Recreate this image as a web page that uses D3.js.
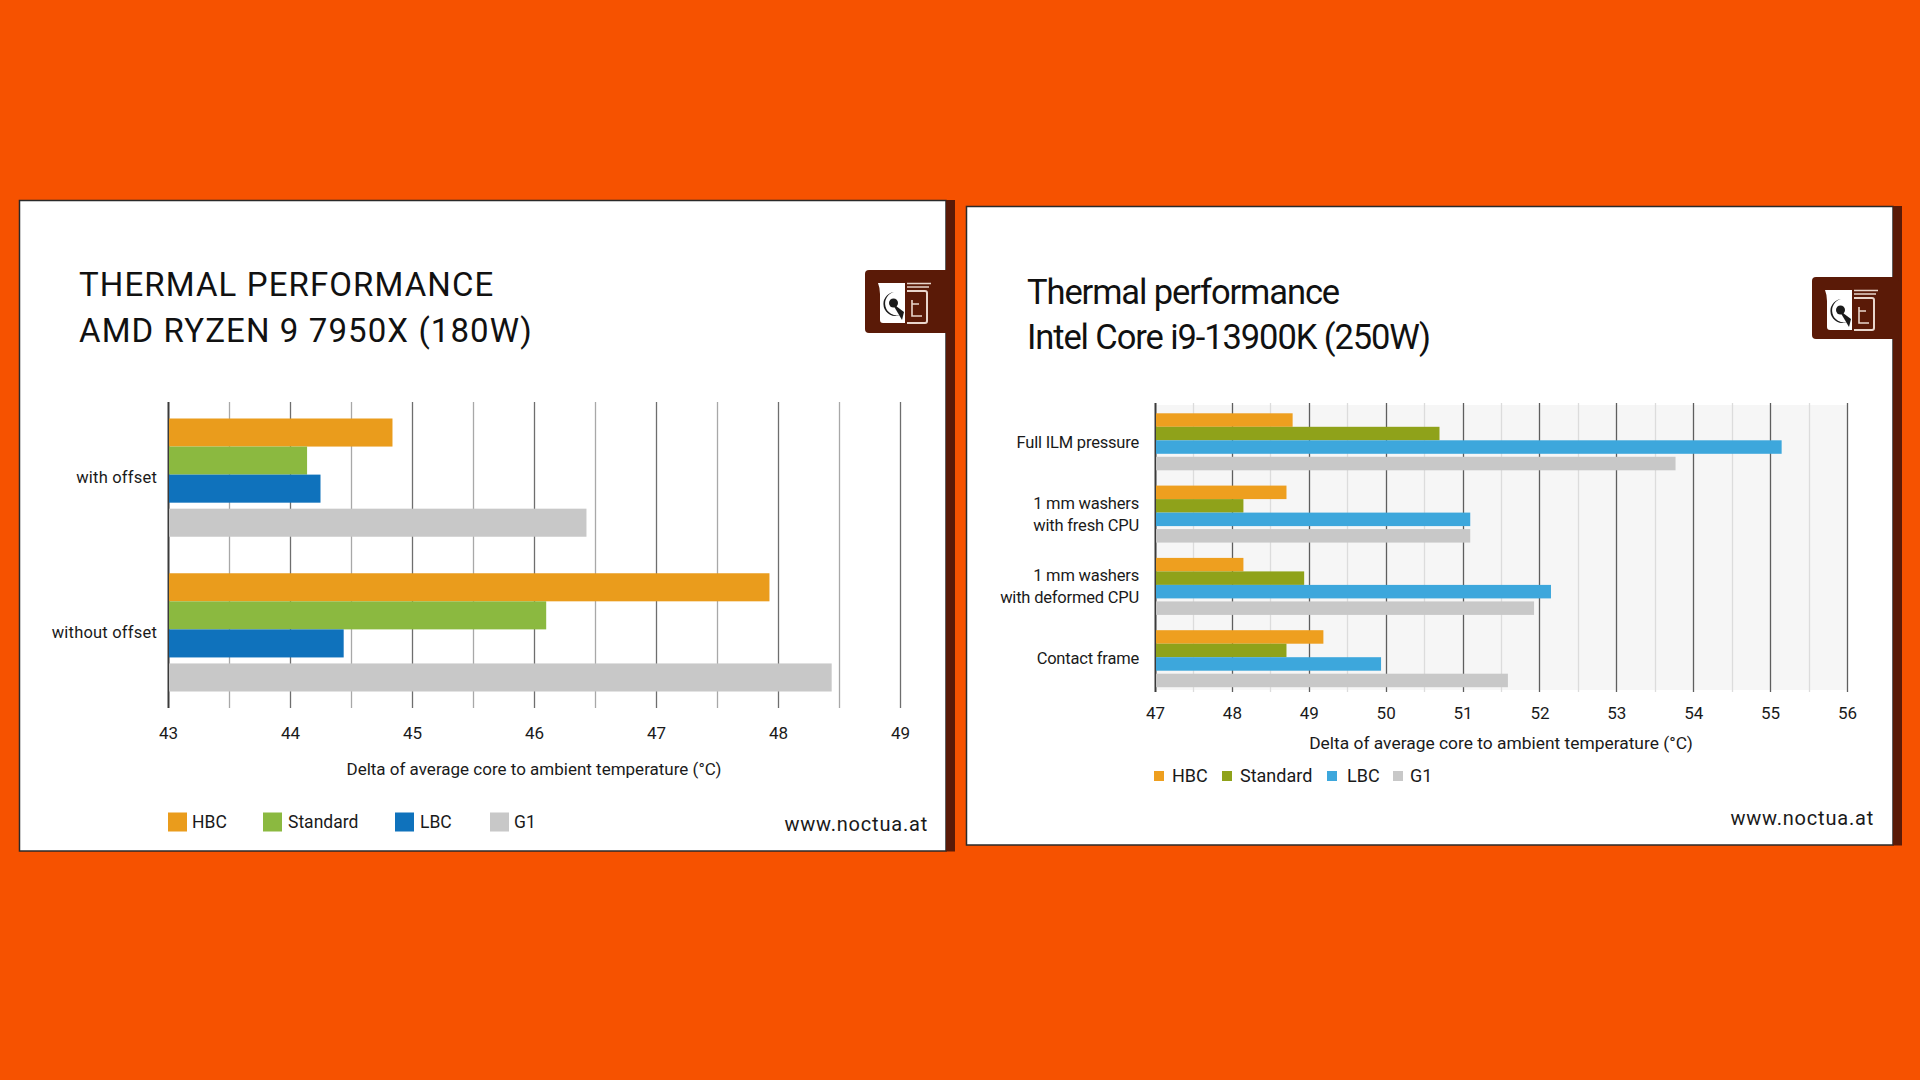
<!DOCTYPE html>
<html><head><meta charset="utf-8">
<script src="https://cdn.jsdelivr.net/npm/d3@7"></script>
<style>
html,body{margin:0;padding:0;background:#F65200;}
svg{display:block;}
text{font-family:Roboto, "Noto Sans", sans-serif;}
</style></head>
<body>
<svg id="c" width="1920" height="1080"></svg>
<script>
// ---------- DATA ----------
const seriesNames = ["HBC", "Standard", "LBC", "G1"];

const leftTitle = ["THERMAL PERFORMANCE", "AMD RYZEN 9 7950X (180W)"];
const leftCategories = ["with offset", "without offset"];
const leftHBC = [44.84, 47.93];
const leftStandard = [44.14, 46.10];
const leftLBC = [44.25, 44.44];
const leftG1 = [46.43, 48.44];
const leftTicks = [43, 44, 45, 46, 47, 48, 49];

const rightTitle = ["Thermal performance", "Intel Core i9-13900K (250W)"];
const rightCategories = [["Full ILM pressure"], ["1 mm washers", "with fresh CPU"], ["1 mm washers", "with deformed CPU"], ["Contact frame"]];
const rightHBC = [48.79, 48.71, 48.15, 49.19];
const rightStandard = [50.70, 48.15, 48.94, 48.71];
const rightLBC = [55.15, 51.10, 52.15, 49.94];
const rightG1 = [53.77, 51.10, 51.93, 51.59];
const rightTicks = [47, 48, 49, 50, 51, 52, 53, 54, 55, 56];

const axisTitle = "Delta of average core to ambient temperature (°C)";
const footer = "www.noctua.at";

// ---------- STYLE ----------
const leftColors = {HBC: "#EA9C1C", Standard: "#8BB940", LBC: "#0F72BC", G1: "#C8C8C8"};
const rightColors = {HBC: "#EE9F1F", Standard: "#8FA21A", LBC: "#3DA7DC", G1: "#C8C8C8"};
const brown = "#5A1A07";

const svg = d3.select("#c");

function panel(x0, y0, x1, y1) {
  svg.append("rect").attr("x", x0).attr("y", y0).attr("width", x1 - x0).attr("height", y1 - y0)
    .attr("fill", "#fff").attr("stroke", "#2a2a2a").attr("stroke-width", 1.5);
  svg.append("rect").attr("x", x1).attr("y", y0 - 0.5).attr("width", 9).attr("height", y1 - y0 + 1).attr("fill", brown);
}

function logo(x, y, w, h) {
  const g = svg.append("g");
  g.append("rect").attr("x", x).attr("y", y).attr("width", w + 6).attr("height", h).attr("rx", 4).attr("fill", brown);
  const ig = g.append("g").attr("transform", `translate(${x + 13},${y + 11})`);
  // left (white) half with spout notch
  ig.append("path").attr("d", "M0,2 L27,2 L27,42 L5,42 Q2,42 2,39 L2,13 Q2,7 0,2 Z").attr("fill", "#fff");
  // owl eye crescent
  ig.append("path").attr("d", "M16,11 A12,12 0 1 0 22,34 A9,9 0 1 1 16,11 Z").attr("fill", "#1b1b1b");
  ig.append("circle").attr("cx", 15.5).attr("cy", 22).attr("r", 4.5).attr("fill", "#1b1b1b");
  ig.append("path").attr("d", "M14,22 L26,31 L24,39 Z").attr("fill", "#1b1b1b");
  // right half outline
  ig.append("path").attr("d", "M29,10 L47,10 Q49,10 49,12 L49,40 Q49,42 47,42 L29,42")
    .attr("fill", "none").attr("stroke", "#e9d6cc").attr("stroke-width", 2);
  ig.append("path").attr("d", "M29,2.5 L53,2.5 M29,6 L51,6").attr("stroke", "#e9d6cc").attr("stroke-width", 1.6);
  ig.append("path").attr("d", "M34,19 L34,35 L44,35 M34,23 L41,23").attr("fill", "none").attr("stroke", "#e9d6cc").attr("stroke-width", 1.6);
}

function chart(cfg) {
  const x = d3.scaleLinear().domain(cfg.domain).range(cfg.xRange);
  const yOuter = d3.scaleBand().domain(cfg.categories.map((d, i) => i)).range(cfg.yRange)
    .paddingInner(cfg.padInner).paddingOuter(0);
  const yInner = d3.scaleBand().domain(seriesNames).range([0, yOuter.bandwidth() - cfg.g1Gap]).padding(0);
  const g = svg.append("g");

  if (cfg.plotBg) {
    g.append("rect").attr("x", x(cfg.domain[0])).attr("y", cfg.gridY[0] + 2)
      .attr("width", x(cfg.domain[1]) - x(cfg.domain[0])).attr("height", cfg.gridY[1] - cfg.gridY[0] - 4)
      .attr("fill", cfg.plotBg);
  }
  // grid lines (integer and half steps)
  const gridVals = x.ticks((cfg.domain[1] - cfg.domain[0]) * 2);
  g.selectAll("line.grid").data(gridVals).join("line")
    .attr("x1", d => Math.round(x(d)) + 0.5).attr("x2", d => Math.round(x(d)) + 0.5)
    .attr("y1", cfg.gridY[0]).attr("y2", cfg.gridY[1])
    .attr("stroke", d => d === cfg.domain[0] ? "#3a3a3a" : (Number.isInteger(d) ? cfg.majorColor : cfg.minorColor))
    .attr("stroke-width", d => d === cfg.domain[0] ? 2 : 1.3);

  // bars
  const rows = [];
  cfg.categories.forEach((c, i) => {
    seriesNames.forEach(s => rows.push({i, s, v: cfg.values[s][i]}));
  });
  g.selectAll("rect.bar").data(rows).join("rect")
    .attr("x", x(cfg.domain[0]) + 1)
    .attr("y", d => yOuter(d.i) + yInner(d.s) + (d.s === "G1" ? cfg.g1Gap : 0))
    .attr("width", d => x(d.v) - x(cfg.domain[0]) - 1)
    .attr("height", yInner.bandwidth())
    .attr("fill", d => cfg.colors[d.s]);

  // category labels
  cfg.categories.forEach((lines, i) => {
    const cy = yOuter(i) + yOuter.bandwidth() / 2;
    const t = g.append("text").attr("x", cfg.labelX).attr("text-anchor", "end")
      .attr("font-size", cfg.catFont).attr("fill", "#1a1a1a").attr("letter-spacing", cfg.catSpacing);
    lines.forEach((l, k) => {
      t.append("tspan").attr("x", cfg.labelX)
        .attr("y", cy + (k - (lines.length - 1) / 2) * cfg.lineH).attr("dy", "0.35em").text(l);
    });
  });

  // x axis tick labels
  const ax = d3.axisBottom(x).tickValues(cfg.ticks).tickSize(0).tickPadding(0).tickFormat(d3.format("d"));
  const axG = g.append("g").attr("transform", `translate(0,${cfg.tickY})`).call(ax);
  axG.select(".domain").remove();
  axG.selectAll("text").attr("font-size", cfg.tickFont).attr("fill", "#1a1a1a")
    .attr("font-family", "Roboto, sans-serif").attr("dy", "0.35em").attr("y", 0);

  g.append("text").attr("x", cfg.axisTitleX).attr("y", cfg.axisTitleY).attr("dy", "0.35em")
    .attr("text-anchor", "middle").attr("font-size", cfg.axisTitleFont).attr("fill", "#1a1a1a")
    .text(axisTitle);

  // legend
  seriesNames.forEach((s, k) => {
    g.append("rect").attr("x", cfg.legend.sw[k]).attr("y", cfg.legend.y - cfg.legend.size / 2)
      .attr("width", cfg.legend.size).attr("height", cfg.legend.size).attr("fill", cfg.colors[s]);
    g.append("text").attr("x", cfg.legend.tx[k]).attr("y", cfg.legend.y).attr("dy", "0.35em")
      .attr("font-size", cfg.legend.font).attr("fill", "#1a1a1a").text(s);
  });

  // titles
  cfg.title.forEach((t, k) => {
    g.append("text").attr("x", cfg.titleX).attr("y", cfg.titleY[k]).attr("font-size", cfg.titleFont)
      .attr("fill", "#111").attr("letter-spacing", cfg.titleSpacing).text(t);
  });
  g.append("text").attr("x", cfg.footerX).attr("y", cfg.footerY).attr("dy", "0.35em").attr("text-anchor", "end")
    .attr("font-size", 20).attr("letter-spacing", 0.8).attr("fill", "#1a1a1a").text(footer);
}

// ---------- LEFT PANEL ----------
panel(19.5, 200.5, 946, 851);
logo(865, 270, 83, 63);
chart({
  domain: [43, 49], xRange: [168, 900], yRange: [418.5, 691.5], padInner: 0.236, g1Gap: 6,
  categories: leftCategories.map(d => [d]),
  values: {HBC: leftHBC, Standard: leftStandard, LBC: leftLBC, G1: leftG1},
  colors: leftColors, gridY: [402, 708], majorColor: "#6e6e6e", minorColor: "#a8a8a8",
  labelX: 157, catFont: 16.5, catSpacing: 0.2, lineH: 20,
  ticks: leftTicks, tickY: 733, tickFont: 17,
  axisTitleX: 534, axisTitleY: 769, axisTitleFont: 17,
  legend: {y: 822, size: 19, font: 17.5, sw: [168, 263, 395, 490], tx: [192, 288, 420, 514]},
  title: leftTitle, titleX: 79, titleY: [296, 342], titleFont: 33, titleSpacing: 1.1,
  footerX: 928, footerY: 824
});

// ---------- RIGHT PANEL ----------
panel(966.5, 206.5, 1893, 845);
logo(1812, 277, 81, 62);
chart({
  domain: [47, 56], xRange: [1155, 1847], yRange: [413.3, 687.2], padInner: 0.2116, g1Gap: 3,
  categories: rightCategories,
  values: {HBC: rightHBC, Standard: rightStandard, LBC: rightLBC, G1: rightG1},
  colors: rightColors, gridY: [403, 692], majorColor: "#5e5e5e", minorColor: "#dcdcdc", plotBg: "#f6f6f6",
  labelX: 1139, catFont: 16.5, catSpacing: -0.2, lineH: 22,
  ticks: rightTicks, tickY: 713, tickFont: 17,
  axisTitleX: 1501, axisTitleY: 743, axisTitleFont: 17.4,
  legend: {y: 776, size: 10, font: 18, sw: [1154, 1222, 1327, 1393], tx: [1172, 1240, 1347, 1410]},
  title: rightTitle, titleX: 1027, titleY: [304, 349], titleFont: 34.5, titleSpacing: -1.1,
  footerX: 1874, footerY: 818
});
</script>
</body></html>
